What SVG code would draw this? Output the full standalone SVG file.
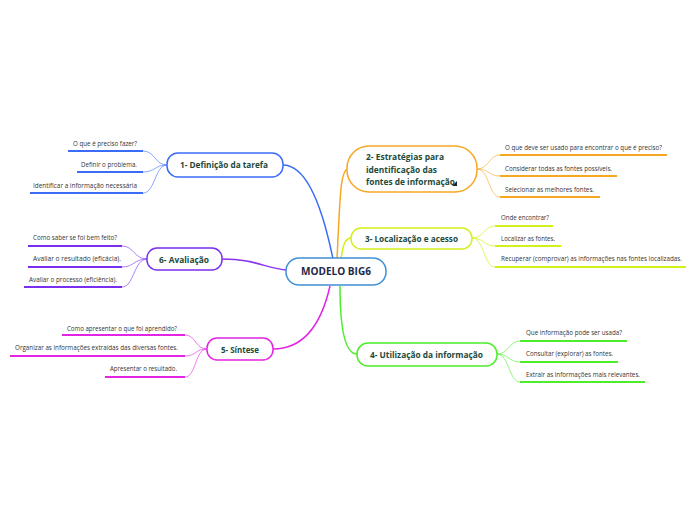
<svg xmlns="http://www.w3.org/2000/svg" width="696" height="520" viewBox="0 0 696 520">
<style>
.node{fill:#fff;stroke-width:1.5}
.nt{font-family:"Open Sans","Noto Sans",sans-serif;font-weight:bold;font-size:9px;fill:#1c4a3b}
.lt{font-family:"Open Sans","Noto Sans",sans-serif;font-size:6.5px;fill:#333}
.ul{fill:none;stroke-width:2}
.lc{fill:none;stroke-width:1}
.mc{fill:none;stroke-width:1.5}
</style>
<rect width="696" height="520" fill="#fff"/>
<g id="connectors">
<path class="mc" stroke="#3b6cf6" d="M283,165 C310,165 325,220 333,259"/>
<path class="mc" stroke="#f7a823" d="M337,259 C340,200 340,170 348,169"/>
<path class="mc" stroke="#d4f01a" d="M341,259 C343,245 345,238 351,238"/>
<path class="mc" stroke="#8a33f0" d="M222,259 C255,259 265,268 286,270"/>
<path class="mc" stroke="#e424e4" d="M330,286 C320,330 300,349 273,349"/>
<path class="mc" stroke="#4ced2b" d="M340,286 C340,330 345,354 357,354"/>
<!-- node 1 leaves -->
<g stroke="#3b6cf6">
<path class="lc" stroke-opacity="0.6" d="M167,165 C155,165 155,151 143,151 M167,165 C155,165 155,172 143,172 M167,165 C155,165 155,193 143,193"/>
<path class="ul" d="M68,151 H143 M77,172 H143 M30,193 H143"/>
</g>
<!-- node 6 leaves -->
<g stroke="#7a2ff0">
<path class="lc" stroke-opacity="0.6" d="M147,259 C134,259 134,246 122,246 M147,259 C134,259 134,267 122,267 M147,259 C134,259 134,287 122,287"/>
<path class="ul" d="M28,246 H122 M28,267 H122 M24,287 H122"/>
</g>
<!-- node 5 leaves -->
<g stroke="#e424e4">
<path class="lc" stroke-opacity="0.6" d="M207,349 C195,349 196,335 185,335 M207,349 C195,349 196,356 185,356 M207,349 C195,349 196,377 185,377"/>
<path class="ul" d="M62,335 H185 M10,356 H185 M105,377 H185"/>
</g>
<!-- node 2 leaves -->
<g stroke="#f7a823">
<path class="lc" stroke-opacity="0.6" d="M477,169 C489,169 489,155 500,155 M477,169 C489,169 489,176 500,176 M477,169 C489,169 489,197 500,197"/>
<path class="ul" d="M500,155 H667 M500,176 H617 M500,197 H600"/>
</g>
<!-- node 3 leaves -->
<g stroke="#d4f01a">
<path class="lc" stroke-opacity="0.7" d="M472,238 C484,238 484,226 495,226 M472,238 C484,238 484,246 495,246 M472,238 C484,238 484,267 495,267"/>
<path class="ul" d="M495,226 H553 M495,246 H561 M495,267 H686"/>
</g>
<!-- node 4 leaves -->
<g stroke="#4ced2b">
<path class="lc" stroke-opacity="0.6" d="M497,354 C509,354 509,341 520,341 M497,354 C509,354 509,362 520,362 M497,354 C509,354 509,382 520,382"/>
<path class="ul" d="M520,341 H627 M520,362 H618 M520,382 H645"/>
</g>
</g>
<g id="central">
<rect class="node" x="286" y="258" width="100" height="27" rx="13" stroke="#3f8fd3"/>
<text x="301" y="275" font-family="'Open Sans','Noto Sans',sans-serif" font-weight="bold" font-size="10.5" fill="#1d2a4a" textLength="70" lengthAdjust="spacingAndGlyphs">MODELO BIG6</text>
</g>
<g id="node1">
<rect class="node" x="167" y="153" width="116" height="24" rx="11" stroke="#3b6cf6"/>
<text class="nt" x="180" y="168" textLength="88" lengthAdjust="spacingAndGlyphs">1- Definição da tarefa</text>
<text class="lt" x="73" y="146" textLength="64" lengthAdjust="spacingAndGlyphs">O que é preciso fazer?</text>
<text class="lt" x="81" y="167" textLength="56" lengthAdjust="spacingAndGlyphs">Definir o problema.</text>
<text class="lt" x="33" y="188" textLength="104" lengthAdjust="spacingAndGlyphs">Identificar a informação necessária</text>
</g>
<g id="node6">
<rect class="node" x="147" y="248" width="75" height="22" rx="10" stroke="#7a2ff0"/>
<text class="nt" x="159" y="262.5" textLength="50" lengthAdjust="spacingAndGlyphs">6- Avaliação</text>
<text class="lt" x="33" y="240" textLength="84" lengthAdjust="spacingAndGlyphs">Como saber se foi bem feito?</text>
<text class="lt" x="33" y="261" textLength="88" lengthAdjust="spacingAndGlyphs">Avaliar o resultado (eficácia).</text>
<text class="lt" x="29" y="282" textLength="88" lengthAdjust="spacingAndGlyphs">Avaliar o processo (eficiência).</text>
</g>
<g id="node5">
<rect class="node" x="207" y="338" width="66" height="22" rx="10" stroke="#e424e4"/>
<text class="nt" x="221" y="352.5" textLength="38" lengthAdjust="spacingAndGlyphs">5- Síntese</text>
<text class="lt" x="67" y="331" textLength="110" lengthAdjust="spacingAndGlyphs">Como apresentar o que foi aprendido?</text>
<text class="lt" x="15" y="350" textLength="163" lengthAdjust="spacingAndGlyphs">Organizar as informações extraídas das diversas fontes.</text>
<text class="lt" x="110" y="371" textLength="67" lengthAdjust="spacingAndGlyphs">Apresentar o resultado.</text>
</g>
<g id="node2">
<rect class="node" x="347" y="146" width="130" height="46" rx="22" stroke="#f7a823"/>
<text class="nt" x="366" y="160" textLength="78" lengthAdjust="spacingAndGlyphs">2- Estratégias para</text>
<text class="nt" x="366" y="173" textLength="71" lengthAdjust="spacingAndGlyphs">identificação das</text>
<text class="nt" x="366" y="185" textLength="89" lengthAdjust="spacingAndGlyphs">fontes de informação</text>
<path d="M457,181 L457,186 L452,186 Z" fill="#222"/>
<text class="lt" x="505" y="150" textLength="157" lengthAdjust="spacingAndGlyphs">O que deve ser usado para encontrar o que é preciso?</text>
<text class="lt" x="505" y="171" textLength="107" lengthAdjust="spacingAndGlyphs">Considerar todas as fontes possíveis.</text>
<text class="lt" x="505" y="192" textLength="89" lengthAdjust="spacingAndGlyphs">Selecionar as melhores fontes.</text>
</g>
<g id="node3">
<rect class="node" x="351" y="228" width="121" height="21" rx="10" stroke="#d4f01a"/>
<text class="nt" x="365" y="242" textLength="93" lengthAdjust="spacingAndGlyphs">3- Localização e acesso</text>
<text class="lt" x="501" y="220" textLength="48" lengthAdjust="spacingAndGlyphs">Onde encontrar?</text>
<text class="lt" x="501" y="241" textLength="54" lengthAdjust="spacingAndGlyphs">Localizar as fontes.</text>
<text class="lt" x="501" y="261" textLength="181" lengthAdjust="spacingAndGlyphs">Recuperar (comprovar) as informações nas fontes localizadas.</text>
</g>
<g id="node4">
<rect class="node" x="357" y="343" width="140" height="23" rx="11" stroke="#4ced2b"/>
<text class="nt" x="370" y="358" textLength="113" lengthAdjust="spacingAndGlyphs">4- Utilização da informação</text>
<text class="lt" x="526" y="335" textLength="96" lengthAdjust="spacingAndGlyphs">Que informação pode ser usada?</text>
<text class="lt" x="526" y="356" textLength="87" lengthAdjust="spacingAndGlyphs">Consultar (explorar) as fontes.</text>
<text class="lt" x="526" y="377" textLength="114" lengthAdjust="spacingAndGlyphs">Extrair as informações mais relevantes.</text>
</g>
</svg>
